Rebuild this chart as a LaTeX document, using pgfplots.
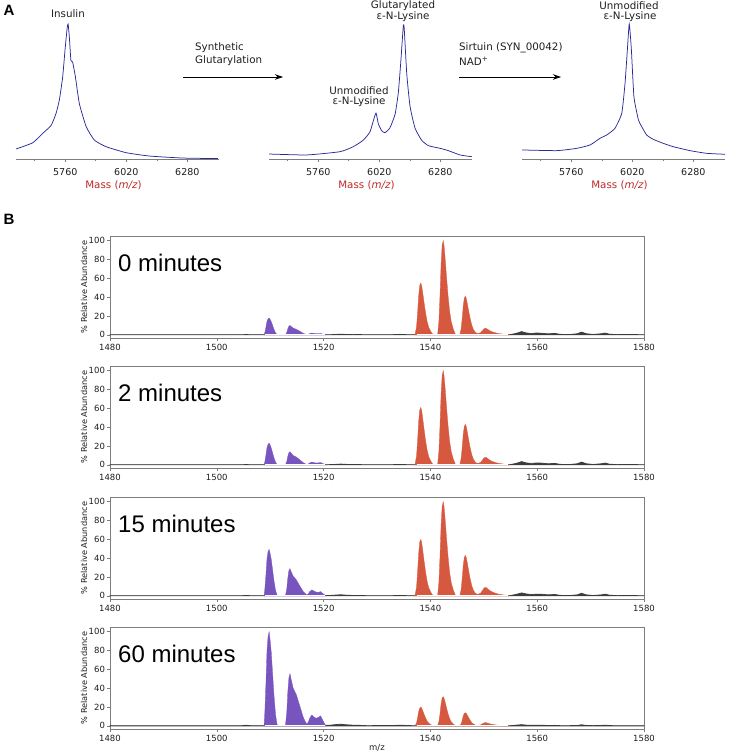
\documentclass[border=0pt]{standalone}
\usepackage{fontspec}
\setmainfont{DejaVu Sans}
\newfontfamily\lib{Liberation Sans}
\usepackage{pgfplots}
\usepackage{pgfplotstable}
\pgfplotsset{compat=1.18}
\usetikzlibrary{arrows.meta}
\definecolor{curveblue}{RGB}{42,42,150}
\definecolor{massred}{RGB}{190,40,40}
\definecolor{purp}{RGB}{120,84,190}
\definecolor{redo}{RGB}{214,88,62}
\definecolor{darkg}{RGB}{60,60,60}
\definecolor{frameg}{RGB}{125,125,125}
\definecolor{txt}{RGB}{30,30,30}

\pgfplotstableread{
x p0 p2 p15 p60
1537.1 0 0 0 0
1537.4 8.3 9.2 9 3
1537.6 23.1 25.6 25.2 8.4
1537.8 41.3 45.8 45 15
1538.0 52.3 58 57 19
1538.2 55 61 60 20
1538.35 52.3 58 57 19
1538.55 45.1 50 49.2 16.4
1538.8 34.7 38.4 37.8 12.6
1539.1 23.1 25.6 25.2 8.4
1539.4 13.8 15.3 15 5
1539.7 7.7 8.5 8.4 2.8
1540.1 3.3 3.7 3.6 1.2
1540.5 0.3 0.3 0.3 0.2
1541.35 0.3 0.3 0.3 0.2
1541.6 15 15 15 4.7
1541.8 42 42 42 13
1542.0 75 75 75 23.3
1542.2 95 95 95 29.5
1542.4 100 100 100 31
1542.55 95 95 95 29.5
1542.75 82 82 82 25.4
1543.0 63 63 63 19.5
1543.3 42 42 42 13
1543.6 25 25 25 7.8
1543.9 14 14 14 4.3
1544.3 6 6 6 1.9
1544.7 0.3 0.3 0.3 0.2
1545.5 0.3 0.3 0.3 0.2
1545.75 6.2 6.5 6.5 2.1
1545.95 17.2 18.1 18.1 5.9
1546.15 30.8 32.3 32.3 10.5
1546.35 39 40.9 40.9 13.3
1546.55 41 43 43 14
1546.7 39 40.9 40.9 13.3
1546.9 33.6 35.3 35.3 11.5
1547.15 25.8 27.1 27.1 8.8
1547.45 17.2 18.1 18.1 5.9
1547.75 10.3 10.8 10.8 3.5
1548.05 5.7 6.0 6.0 2.0
1548.45 2.5 2.6 2.6 0.8
1548.85 1.4 1.5 1.6 0.5
1549.4 2.3 2.6 2.9 1.1
1549.8 4.9 5.6 6.3 2.5
1550.1 6.7 7.6 8.6 3.3
1550.4 7 8 9 3.5
1550.8 5.6 6.4 7.2 2.8
1551.3 3.9 4.4 5.0 1.9
1552.0 2.5 2.8 3.2 1.2
1552.8 1.4 1.6 1.8 0.7
1553.8 0.7 0.8 0.9 0.4
1554.8 0.3 0.3 0.4 0.2
1554.9 0 0 0 0
}\redtab

\pgfplotstableread{
x p0 p2 p15 p60
1508.85 0 0 0 0
1509.0 2.7 3.5 7.4 15
1509.2 8.1 10.4 22.3 45
1509.4 14.4 18.4 39.6 80
1509.6 17.1 21.9 47 95
1509.8 18 23 49.5 100
1510.0 16.2 20.7 44.6 90
1510.2 14 17.9 38.6 78
1510.4 10.8 13.8 29.7 60
1510.7 5.9 7.6 16.3 33
1511.0 2.2 2.8 5.9 12
1511.3 0.2 0.2 0.5 1
1512.85 0.2 0.2 0.2 0.2
1513.1 2.5 3.5 7.3 13.9
1513.3 6.5 9.1 18.9 36.1
1513.5 9.2 12.9 26.7 51
1513.7 10 14 29 55.5
1513.9 9 12.6 26.1 50
1514.3 7.2 10 21 40
1514.9 5.9 8.3 17 33
1515.5 4 5.5 11 22
1516.2 1.6 2.3 4.5 9
1516.8 0.4 0.5 1 2
1517.1 0.6 0.9 1.9 3.5
1517.4 1.4 2.1 4.5 8.2
1517.8 2 3 6.4 11.7
1518.2 1.6 2.4 5.1 9.4
1518.6 1.3 2.0 4.0 8
1519.0 1.3 2.1 3.8 9
1519.45 1.5 2.5 4.5 10.6
1519.9 0.8 1.3 2.3 5.3
1520.3 0.2 0.3 0.5 1.1
1520.5 0 0 0 0
}\purtab

\pgfplotstableread{
x p0 p2 p15 p60
1480 0.2 0.2 0.2 0.2
1504.5 0.2 0.2 0.2 0.2
1505.5 0.4 0.4 0.5 0.7
1506.5 0.2 0.2 0.2 0.2
1508.5 0.2 0.2 0.2 0.3
1521 0.2 0.3 0.4 0.6
1522.3 0.5 0.6 0.9 1.4
1523.2 0.8 0.9 1.2 1.8
1524.2 0.5 0.6 0.8 1.2
1525.5 0.3 0.4 0.5 0.8
1526.5 0.4 0.4 0.5 0.7
1528 0.2 0.2 0.3 0.3
1533 0.3 0.3 0.3 0.4
1534.3 0.6 0.6 0.6 0.8
1535.5 0.3 0.3 0.3 0.5
1536.5 0.2 0.2 0.2 0.3
1555 0.4 0.4 0.4 0.3
1556 1.5 1.5 1.5 0.8
1557.1 3.5 3.5 3.2 1.3
1558 2 2 2 0.8
1559 1.5 1.6 1.5 0.6
1559.8 2 2 1.9 0.7
1560.8 1.8 1.9 1.8 0.7
1562 1.1 1.2 1.1 0.5
1563.3 1.6 1.6 1.5 0.6
1564.3 0.6 0.6 0.6 0.3
1566 0.4 0.4 0.4 0.3
1567.5 1.2 1.2 1.1 0.5
1568.3 3 3 2.8 1.2
1569.2 1.2 1.2 1.1 0.5
1570.5 0.5 0.5 0.5 0.3
1572 1.2 1.2 1.1 0.5
1572.7 2 2 1.9 0.8
1573.5 0.8 0.8 0.8 0.4
1575 0.3 0.3 0.3 0.2
1577 0.5 0.5 0.5 0.3
1580 0.2 0.2 0.2 0.2
}\graytab

\pgfplotsset{
  specA/.style={scale only axis, width=203pt, height=135pt,
    xmin=5550, xmax=6415, ymin=0, ymax=1,
    axis x line*=bottom, axis y line=none, ytick=\empty,
    xtick={5760,6020,6280}, minor xtick={5630,5890,6150},
    tick align=outside, major tick length=3pt, minor tick length=2pt,
    x axis line style={draw=frameg, line width=0.8pt},
    every tick/.style={frameg, line width=0.6pt},
    xticklabel style={font=\fontsize{9.5}{11}\selectfont, text=txt, yshift=-3pt},
    /pgf/number format/1000 sep={}, /pgf/number format/assume math mode=true,
    clip=false, anchor=south west},
  msB/.style={scale only axis, width=534pt, height=102pt,
    xmin=1480, xmax=1580, ymin=-3.3, ymax=105,
    xtick={1480,1500,...,1580}, ytick={0,20,...,100},
    tick align=outside, major tick length=3pt, tick pos=left,
    axis line style={draw=frameg, line width=0.8pt},
    every tick/.style={frameg, line width=0.6pt},
    ticklabel style={font=\fontsize{8.5}{10}\selectfont, text=txt},
    yticklabel style={xshift=1.5pt},
    /pgf/number format/1000 sep={}, /pgf/number format/assume math mode=true,
    clip=false, anchor=north west}
}

\begin{document}
\begin{tikzpicture}
\path[use as bounding box] (0pt,0pt) rectangle (738pt,-754pt);

% ---------- Panel A ----------
\node[font=\lib\bfseries\fontsize{15}{17}\selectfont, text=black] at (9pt,-10pt) {A};

\begin{axis}[specA, at={(16pt,-159pt)}]
\addplot[curveblue, line width=0.75pt, smooth, tension=0.3] coordinates {
(5550,0.074) (5621,0.12) (5664,0.19) (5700,0.25) (5721,0.34) (5735,0.44)
(5749,0.61) (5759,0.81) (5768,0.97) (5772,1.0) (5777,0.91) (5784,0.73)
(5791,0.72) (5803,0.61) (5820,0.41) (5849,0.24) (5884,0.14) (5934,0.091)
(6019,0.047) (6118,0.022) (6262,0.007) (6410,0.003)};
\node[text=massred, font=\fontsize{10.3}{12}\selectfont] at ([xshift=-4pt,yshift=-26pt]rel axis cs:0.5,0) {Mass (\textit{m/z})};
\end{axis}

\begin{axis}[specA, at={(269pt,-159pt)}]
\addplot[curveblue, line width=0.75pt, smooth, tension=0.3] coordinates {
(5550,0.037) (5711,0.030) (5852,0.054) (5909,0.091) (5952,0.14) (5980,0.20)
(5994,0.28) (6006,0.34) (6016,0.26) (6030,0.21) (6044,0.195) (6065,0.23)
(6087,0.33) (6101,0.49) (6112,0.73) (6122,0.98) (6126,0.97) (6137,0.63)
(6151,0.39) (6172,0.23) (6200,0.14) (6229,0.099) (6279,0.079) (6314,0.062)
(6364,0.030) (6414,0.017)};
\node[text=massred, font=\fontsize{10.3}{12}\selectfont] at ([xshift=-4pt,yshift=-26pt]rel axis cs:0.5,0) {Mass (\textit{m/z})};
\end{axis}

\begin{axis}[specA, at={(522pt,-159pt)}]
\addplot[curveblue, line width=0.75pt, smooth, tension=0.3] coordinates {
(5550,0.067) (5698,0.062) (5783,0.079) (5840,0.104) (5882,0.153) (5911,0.178)
(5946,0.227) (5975,0.338) (5989,0.56) (5999,0.81) (6007,1.0) (6016,0.81)
(6027,0.46) (6046,0.29) (6060,0.24) (6081,0.178) (6109,0.146) (6152,0.116)
(6195,0.091) (6266,0.062) (6337,0.042) (6415,0.035)};
\node[text=massred, font=\fontsize{10.3}{12}\selectfont] at ([xshift=-4pt,yshift=-26pt]rel axis cs:0.5,0) {Mass (\textit{m/z})};
\end{axis}

\begin{scope}[every node/.style={font=\fontsize{10.3}{12}\selectfont, text=txt, inner sep=0pt}]
\node at (68pt,-14pt) {Insulin};
\node at (403pt,-5.5pt) {Glutarylated};
\node at (403pt,-16.5pt) {ε-N-Lysine};
\node at (359pt,-90.5pt) {Unmodified};
\node at (359pt,-102pt) {ε-N-Lysine};
\node at (629pt,-5.5pt) {Unmodified};
\node at (630pt,-16.5pt) {ε-N-Lysine};
\node[anchor=west] at (195pt,-48pt) {Synthetic};
\node[anchor=west] at (195pt,-61pt) {Glutarylation};
\node[anchor=west] at (459pt,-48pt) {Sirtuin (SYN\_00042)};
\node[anchor=west] at (459pt,-61pt) {NAD\textsuperscript{+}};
\end{scope}
\draw[line width=0.8pt, -{Stealth[length=8pt,width=5.5pt]}] (183pt,-77pt) -- (283pt,-77pt);
\draw[line width=0.8pt, -{Stealth[length=8pt,width=5.5pt]}] (459pt,-77pt) -- (561pt,-77pt);

% ---------- Panel B ----------
\node[font=\lib\bfseries\fontsize{15}{17}\selectfont, text=black] at (9pt,-219pt) {B};

\begin{axis}[msB, at={(110pt,-236pt)}]
\addplot[draw=darkg, fill=darkg, line width=0.7pt] table[x=x,y=p0]{\graytab} \closedcycle;
\addplot[draw=purp, fill=purp, line width=0.3pt] table[x=x,y=p0]{\purtab} \closedcycle;
\addplot[draw=redo, fill=redo, line width=0.3pt] table[x=x,y=p0]{\redtab} \closedcycle;
\addplot[white, line width=0.4pt] coordinates {(1509.1,0.9) (1520.2,0.9)};
\addplot[white, line width=0.4pt] coordinates {(1537.4,0.9) (1554.6,0.9)};
\node[anchor=west, inner sep=0pt, font=\lib\fontsize{24}{27}\selectfont] at ([xshift=8pt,yshift=-27pt]rel axis cs:0,1) {0 minutes};
\node[rotate=90, font=\fontsize{8.2}{10}\selectfont, text=txt] at ([xshift=-26pt]rel axis cs:0,0.5) {\% Relative Abundance};
\end{axis}

\begin{axis}[msB, at={(110pt,-366pt)}]
\addplot[draw=darkg, fill=darkg, line width=0.7pt] table[x=x,y=p2]{\graytab} \closedcycle;
\addplot[draw=purp, fill=purp, line width=0.3pt] table[x=x,y=p2]{\purtab} \closedcycle;
\addplot[draw=redo, fill=redo, line width=0.3pt] table[x=x,y=p2]{\redtab} \closedcycle;
\addplot[white, line width=0.4pt] coordinates {(1509.1,0.9) (1520.2,0.9)};
\addplot[white, line width=0.4pt] coordinates {(1537.4,0.9) (1554.6,0.9)};
\node[anchor=west, inner sep=0pt, font=\lib\fontsize{24}{27}\selectfont] at ([xshift=8pt,yshift=-27pt]rel axis cs:0,1) {2 minutes};
\node[rotate=90, font=\fontsize{8.2}{10}\selectfont, text=txt] at ([xshift=-26pt]rel axis cs:0,0.5) {\% Relative Abundance};
\end{axis}

\begin{axis}[msB, at={(110pt,-497pt)}]
\addplot[draw=darkg, fill=darkg, line width=0.7pt] table[x=x,y=p15]{\graytab} \closedcycle;
\addplot[draw=purp, fill=purp, line width=0.3pt] table[x=x,y=p15]{\purtab} \closedcycle;
\addplot[draw=redo, fill=redo, line width=0.3pt] table[x=x,y=p15]{\redtab} \closedcycle;
\addplot[white, line width=0.4pt] coordinates {(1509.1,0.9) (1520.2,0.9)};
\addplot[white, line width=0.4pt] coordinates {(1537.4,0.9) (1554.6,0.9)};
\node[anchor=west, inner sep=0pt, font=\lib\fontsize{24}{27}\selectfont] at ([xshift=8pt,yshift=-27pt]rel axis cs:0,1) {15 minutes};
\node[rotate=90, font=\fontsize{8.2}{10}\selectfont, text=txt] at ([xshift=-26pt]rel axis cs:0,0.5) {\% Relative Abundance};
\end{axis}

\begin{axis}[msB, at={(110pt,-627pt)}]
\addplot[draw=darkg, fill=darkg, line width=0.7pt] table[x=x,y=p60]{\graytab} \closedcycle;
\addplot[draw=purp, fill=purp, line width=0.3pt] table[x=x,y=p60]{\purtab} \closedcycle;
\addplot[draw=redo, fill=redo, line width=0.3pt] table[x=x,y=p60]{\redtab} \closedcycle;
\addplot[white, line width=0.4pt] coordinates {(1509.1,0.9) (1520.2,0.9)};
\addplot[white, line width=0.4pt] coordinates {(1537.4,0.9) (1554.6,0.9)};
\node[anchor=west, inner sep=0pt, font=\lib\fontsize{24}{27}\selectfont] at ([xshift=8pt,yshift=-27pt]rel axis cs:0,1) {60 minutes};
\node[rotate=90, font=\fontsize{8.2}{10}\selectfont, text=txt] at ([xshift=-26pt]rel axis cs:0,0.5) {\% Relative Abundance};
\node[font=\fontsize{8.5}{10}\selectfont, text=txt] at ([yshift=-19pt]rel axis cs:0.5,0) {m/z};
\end{axis}
\end{tikzpicture}
\end{document}
